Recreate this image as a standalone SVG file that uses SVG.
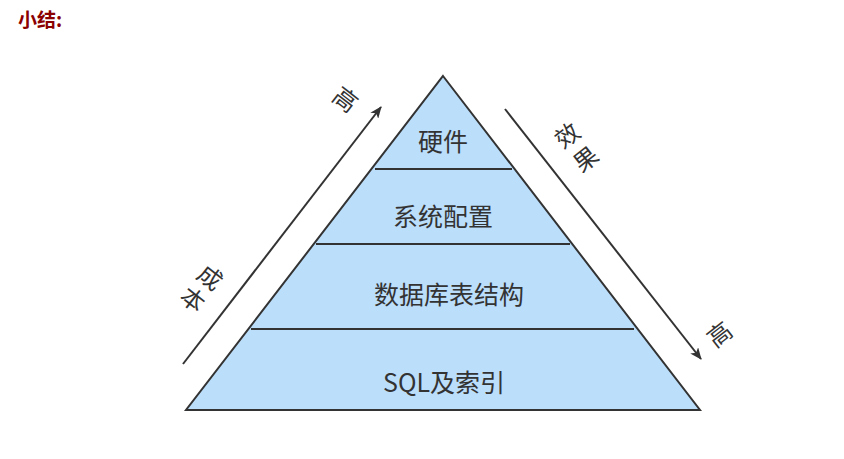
<svg xmlns="http://www.w3.org/2000/svg" width="844" height="459" viewBox="0 0 844 459">
  <style>
    .layer { fill: #bbdefb; stroke: none; }
    .outline { fill: none; stroke: #333333; stroke-width: 2; stroke-linejoin: miter; }
    .divider { stroke: #333333; stroke-width: 2; }
    .lbl { font-family: "Noto Sans CJK SC", "Noto Sans", "Liberation Sans", sans-serif; font-size: 25px; fill: #333333; text-anchor: middle; }
    .side { font-family: "Noto Sans CJK SC", "Noto Sans", "Liberation Sans", sans-serif; font-size: 24px; fill: #333333; text-anchor: middle; }
    .arrow { stroke: #333333; stroke-width: 2; fill: none; marker-end: url(#head); }
    .title { font-family: "Noto Sans CJK SC", "Liberation Sans", sans-serif; font-size: 19px; font-weight: bold; fill: #8b0000; }
  </style>
  <defs>
    <marker id="head" viewBox="0 0 12 10" refX="11" refY="5" markerWidth="12" markerHeight="10" markerUnits="userSpaceOnUse" orient="auto">
      <path d="M0,0 L12,5 L0,10 L3,5 Z" fill="#333333"/>
    </marker>
  </defs>

  <rect width="844" height="459" fill="#ffffff"/>

  <text class="title" x="18" y="27">小结:</text>

  <!-- pyramid layers -->
  <g id="layer-hardware">
    <polygon class="layer" points="443,76 514.6,169 371.4,169"/>
    <text class="lbl" x="443" y="151">硬件</text>
  </g>
  <g id="layer-config">
    <polygon class="layer" points="371.4,169 514.6,169 572.3,244 313.7,244"/>
    <text class="lbl" x="443" y="226">系统配置</text>
  </g>
  <g id="layer-schema">
    <polygon class="layer" points="313.7,244 572.3,244 637.7,329 248.3,329"/>
    <text class="lbl" x="449" y="304">数据库表结构</text>
  </g>
  <g id="layer-sql">
    <polygon class="layer" points="248.3,329 637.7,329 700,410 186,410"/>
    <text class="lbl" x="444" y="392">SQL及索引</text>
  </g>

  <!-- pyramid outline and layer dividers -->
  <g id="pyramid-lines">
    <polygon class="outline" points="443,76 700,410 186,410"/>
    <line class="divider" x1="375" y1="169" x2="512" y2="169"/>
    <line class="divider" x1="316" y1="244" x2="570" y2="244"/>
    <line class="divider" x1="251" y1="329" x2="634" y2="329"/>
  </g>

  <!-- side arrows -->
  <g id="connectors">
    <line class="arrow" x1="183" y1="364" x2="381" y2="107"/>
    <line class="arrow" x1="505" y1="109" x2="701" y2="359"/>
  </g>

  <!-- side labels -->
  <g id="label-cost-high" transform="translate(345,100) rotate(38)">
    <text class="side" x="0" y="8">高</text>
  </g>
  <g id="label-cost" transform="translate(201,289) rotate(38)">
    <text class="side"><tspan x="0" y="-6">成</tspan><tspan x="0" y="22">本</tspan></text>
  </g>
  <g id="label-effect" transform="translate(577,148) rotate(-38)">
    <text class="side"><tspan x="0" y="-7">效</tspan><tspan x="0" y="23">果</tspan></text>
  </g>
  <g id="label-effect-high" transform="translate(720,335) rotate(-38)">
    <text class="side" x="0" y="8">高</text>
  </g>
</svg>
